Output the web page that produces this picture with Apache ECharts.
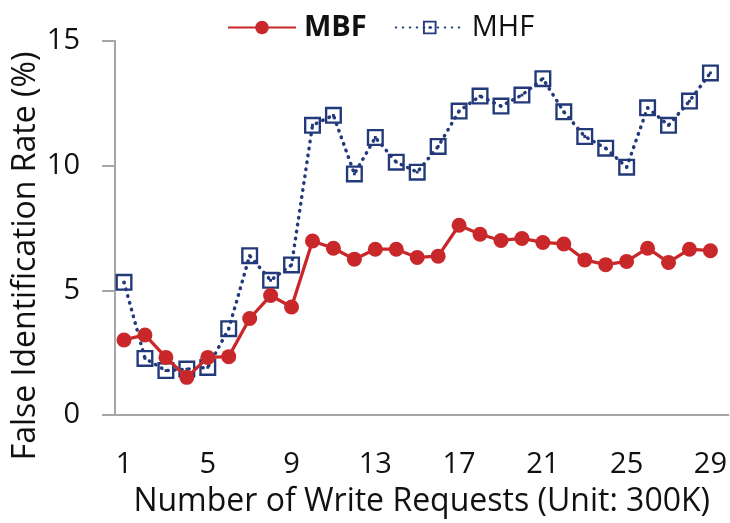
<!DOCTYPE html>
<html>
<head>
<meta charset="utf-8">
<script src="https://cdn.jsdelivr.net/npm/echarts@6/dist/echarts.min.js"></script>
<style>
  html, body { margin: 0; padding: 0; background: #fff; }
  #chart { width: 730px; height: 523px; }
</style>
</head>
<body>
<div id="chart"></div>
<script>
const requests = [1, 2, 3, 4, 5, 6, 7, 8, 9, 10, 11, 12, 13, 14, 15, 16, 17, 18, 19, 20, 21, 22, 23, 24, 25, 26, 27, 28, 29]
const mbf = [3.01, 3.21, 2.31, 1.51, 2.31, 2.34, 3.87, 4.79, 4.33, 6.98, 6.69, 6.25, 6.65, 6.65, 6.32,
  6.37, 7.61, 7.25, 7.0, 7.08, 6.92, 6.86, 6.22, 6.03, 6.16, 6.69, 6.12, 6.65, 6.59]
const mhf = [5.32, 2.27, 1.78, 1.84, 1.91, 3.46, 6.39, 5.4, 6.02, 11.62, 12.02, 9.67, 11.13, 10.14, 9.74,
  10.77, 12.19, 12.79, 12.39, 12.83, 13.49, 12.16, 11.17, 10.7, 9.94, 12.32, 11.62, 12.59, 13.72]
const xTicks = [1, 5, 9, 13, 17, 21, 25, 29]
const yTicks = [0, 5, 10, 15]

const font = 'Open Sans'
const red = '#C9282A'
const navy = '#22397A'

// square frame with a dot in the middle (inner square wound the other way = hole)
const boxSymbol = 'path://M0,0H36V36H0Z M5,5V31H31V5Z M15,15H21V21H15Z'

const chart = echarts.init(document.getElementById('chart'))

chart.setOption({
  animation: false,
  textStyle: { fontFamily: font },
  legend: {
    top: 8,
    left: 222,
    itemWidth: 68,
    itemHeight: 17,
    itemGap: 28,
    textStyle: { fontFamily: font, fontSize: 29, color: '#111', padding: [0, 0, 0, 3] },
    data: [
      { name: 'MBF', textStyle: { fontWeight: 'bold' } },
      { name: 'MHF' }
    ]
  },
  grid: { left: 115, right: 0, top: 41, bottom: 105 },
  xAxis: {
    type: 'value',
    min: 0.57,
    max: 29.86,
    name: 'Number of Write Requests (Unit: 300K)',
    nameLocation: 'middle',
    nameGap: 71,
    nameTextStyle: { fontFamily: font, fontSize: 32, color: '#111' },
    axisLine: { lineStyle: { color: '#A6A6A6', width: 2 } },
    axisTick: { show: false },
    splitLine: { show: false },
    axisLabel: {
      customValues: xTicks,
      margin: 35,
      fontSize: 29,
      color: '#111',
      fontFamily: font
    }
  },
  yAxis: {
    type: 'value',
    min: yTicks[0],
    max: yTicks[yTicks.length - 1],
    interval: 5,
    axisLine: { show: true, lineStyle: { color: '#A6A6A6', width: 2 } },
    axisTick: { show: true, length: 13, lineStyle: { color: '#A6A6A6', width: 2 } },
    splitLine: { show: false },
    axisLabel: { margin: 35, fontSize: 29, color: '#111', fontFamily: font }
  },
  graphic: [{
    type: 'text',
    x: 26,
    y: 256,
    rotation: Math.PI / 2,
    style: {
      text: 'False Identification Rate (%)',
      fontFamily: font,
      fontSize: 32,
      fill: '#111',
      align: 'center',
      verticalAlign: 'middle'
    }
  }],
  series: [
    {
      name: 'MBF',
      type: 'line',
      data: requests.map((x, i) => [x, mbf[i]]),
      symbol: 'circle',
      symbolSize: 15,
      itemStyle: { color: red },
      lineStyle: { color: red, width: 3.3 },
      z: 3
    },
    {
      name: 'MHF',
      type: 'line',
      data: requests.map((x, i) => [x, mhf[i]]),
      symbol: boxSymbol,
      symbolSize: 17,
      itemStyle: { color: navy },
      lineStyle: { color: navy, width: 3.5, type: [0.5, 6.5], cap: 'round' },
      z: 2
    }
  ]
})
</script>
</body>
</html>
